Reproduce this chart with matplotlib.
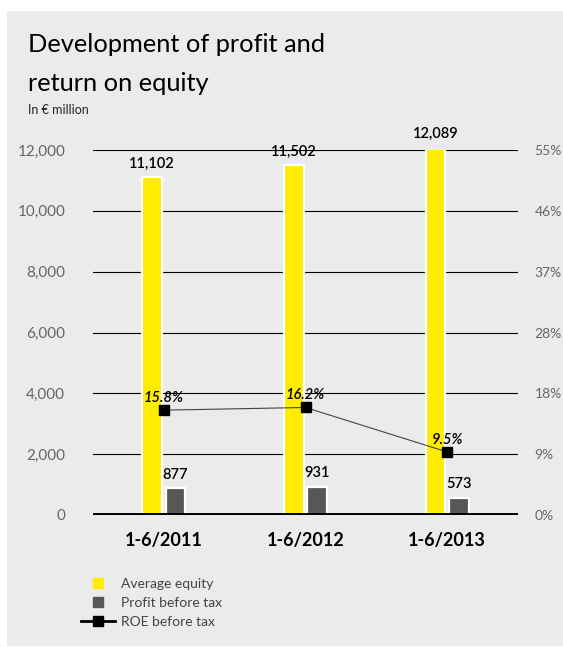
import numpy as np
import matplotlib
matplotlib.use("Agg")
import matplotlib.pyplot as plt
from matplotlib.lines import Line2D
from matplotlib.patches import Rectangle

plt.rcParams['font.family'] = ['Lato', 'DejaVu Sans']

periods = ['1-6/2011', '1-6/2012', '1-6/2013']
avg_equity = [11102, 11502, 12089]
profit_before_tax = [877, 931, 573]
roe_before_tax = [15.8, 16.2, 9.5]

left_ticks = [0, 2000, 4000, 6000, 8000, 10000, 12000]
roe_max = 55

YELLOW = '#ffec00'
DARK = '#575757'
PANEL = '#ebebeb'
TICK_GREY = '#666666'

W, H = 563, 647
fig = plt.figure(figsize=(W / 100, H / 100), dpi=100)
fig.patch.set_facecolor('white')
fig.patches.append(Rectangle((7 / W, 1 / H), 1 - 7 / W, (646 - 11) / H,
                             transform=fig.transFigure, facecolor=PANEL,
                             edgecolor='none', zorder=-10))

ax = fig.add_axes([93 / W, 1 - 515 / H, 425 / W, 365 / H])
ax.set_facecolor('none')
x = np.arange(len(periods))
bw = 0.14
off = 0.082

# horizontal rules behind the bars
for t in left_ticks[1:]:
    ax.axhline(t, color='black', lw=0.8, zorder=1)
ax.axhline(0, color='black', lw=2.8, zorder=5)

b1 = ax.bar(x - off, avg_equity, bw, color=YELLOW, edgecolor='white', lw=1.6, zorder=3)
b2 = ax.bar(x + off, profit_before_tax, bw, color=DARK, edgecolor='white', lw=1.6, zorder=3)

for bars, vals in ((b1, avg_equity), (b2, profit_before_tax)):
    for rect, v in zip(bars, vals):
        ax.annotate(f'{v:,}', (rect.get_x() + rect.get_width() / 2, v),
                    xytext=(0, 7), textcoords='offset points', ha='center',
                    va='baseline', fontsize=10.5, fontweight='semibold',
                    color='black', zorder=6, annotation_clip=False)

ax.set_xlim(-0.5, 2.5)
ax.set_ylim(0, 12000)
ax.set_yticks(left_ticks)
ax.set_yticklabels([f'{t:,}' for t in left_ticks])
ax.set_xticks(x)
ax.set_xticklabels(periods, fontsize=13, fontweight='bold')
ax.tick_params(axis='x', length=0, pad=12)
ax.tick_params(axis='y', length=0, pad=20, labelsize=11, labelcolor=TICK_GREY)
for s in ax.spines.values():
    s.set_visible(False)

# return on equity on the right-hand scale
ax2 = ax.twinx()
ax2.set_ylim(0, roe_max)
rticks = [roe_max * k / 6 for k in range(7)]
ax2.set_yticks(rticks)
ax2.set_yticklabels([f'{t:.0f}%' for t in rticks])
ax2.tick_params(axis='y', length=0, pad=12, labelsize=10, labelcolor=TICK_GREY)
for s in ax2.spines.values():
    s.set_visible(False)
ax2.plot(x, roe_before_tax, color='#444444', lw=0.8, marker='s', markersize=7.5,
         markerfacecolor='black', markeredgecolor='black', zorder=4)
for xi, v in zip(x, roe_before_tax):
    ax2.annotate(f'{v:.1f}%', (xi, v), xytext=(0, 6), textcoords='offset points',
                 ha='center', va='baseline', fontsize=10.5, fontstyle='italic',
                 fontweight='semibold', color='black')

fig.text(28 / W, 1 - 52 / H, 'Development of profit and', fontsize=18.3,
         color='black', va='baseline')
fig.text(28 / W, 1 - 91 / H, 'return on equity', fontsize=18.3,
         color='black', va='baseline')
fig.text(28 / W, 1 - 114 / H, 'In € million', fontsize=9, color='#222222',
         va='baseline')

handles = [
    Line2D([], [], ls='none', marker='s', markersize=7, markerfacecolor=YELLOW,
           markeredgecolor=YELLOW),
    Line2D([], [], ls='none', marker='s', markersize=7, markerfacecolor=DARK,
           markeredgecolor=DARK),
    Line2D([], [], color='black', lw=2, marker='s', markersize=7,
           markerfacecolor='black'),
]
fig.legend(handles, ['Average equity', 'Profit before tax', 'ROE before tax'],
           loc='upper left', bbox_to_anchor=(81 / W, 1 - 578 / H),
           frameon=False, fontsize=10, labelcolor='#444444', handlelength=2.45,
           handletextpad=0.4, labelspacing=0.5, borderpad=0, borderaxespad=0,
           numpoints=1)

fig.savefig('out.png', dpi=100)
